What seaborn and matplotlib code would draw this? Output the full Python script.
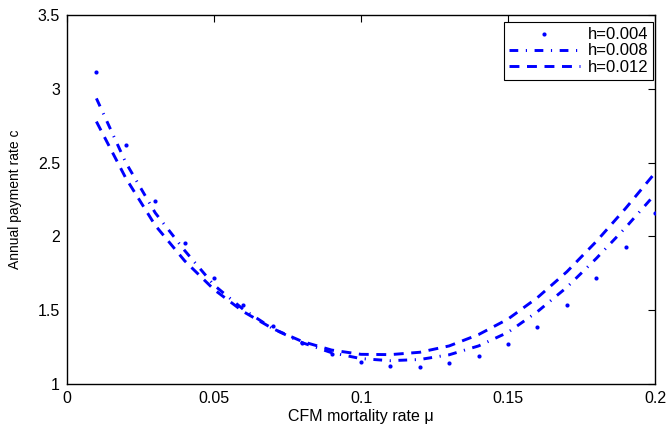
import matplotlib
matplotlib.use("Agg")
import matplotlib.pyplot as plt
import seaborn as sns
import pandas as pd

# ---- data ----
mu = [0.01, 0.02, 0.03, 0.04, 0.05, 0.06, 0.07, 0.08, 0.09, 0.10,
      0.11, 0.12, 0.13, 0.14, 0.15, 0.16, 0.17, 0.18, 0.19, 0.20]
c_h004 = [3.114, 2.619, 2.242, 1.953, 1.720, 1.535, 1.390, 1.280, 1.205, 1.151,
          1.120, 1.115, 1.140, 1.190, 1.269, 1.385, 1.533, 1.716, 1.925, 2.160]
c_h008 = [2.935, 2.500, 2.160, 1.905, 1.670, 1.505, 1.375, 1.280, 1.212, 1.172,
          1.158, 1.166, 1.198, 1.258, 1.350, 1.490, 1.655, 1.850, 2.060, 2.285]
c_h012 = [2.778, 2.395, 2.075, 1.835, 1.640, 1.490, 1.375, 1.288, 1.230, 1.201,
          1.199, 1.215, 1.258, 1.335, 1.440, 1.585, 1.760, 1.965, 2.190, 2.430]
labels = ["h=0.004", "h=0.008", "h=0.012"]
xticks = [0, 0.05, 0.1, 0.15, 0.2]
xticklabels = ["0", "0.05", "0.1", "0.15", "0.2"]
yticks = [1, 1.5, 2, 2.5, 3, 3.5]
yticklabels = ["1", "1.5", "2", "2.5", "3", "3.5"]

sns.set_theme(style="white")
plt.rcParams['font.family'] = ['Liberation Sans', 'DejaVu Sans']
plt.rcParams['axes.edgecolor'] = 'black'

fig = plt.figure(figsize=(6.68, 4.25), dpi=100)
ax = fig.add_axes([67 / 668, 1 - 384 / 425, 588 / 668, 369 / 425])

blue = (0, 0, 1)
sns.scatterplot(x=mu, y=c_h004, ax=ax, color=blue, s=9, linewidth=0,
                label=labels[0], zorder=3)
sns.lineplot(x=mu, y=c_h008, ax=ax, color=blue, linewidth=2.1,
             linestyle=(0, (3.0, 2.6, 0.4, 2.6)), label=labels[1])
sns.lineplot(x=mu, y=c_h012, ax=ax, color=blue, linewidth=2.1,
             linestyle=(0, (3.4, 2.6)), label=labels[2])

ax.set_xlim(0, 0.2)
ax.set_ylim(1, 3.5)
ax.set_xticks(xticks)
ax.set_xticklabels(xticklabels)
ax.set_yticks(yticks)
ax.set_yticklabels(yticklabels)
ax.tick_params(direction='in', length=5, width=0.8, top=True, right=True,
               labelsize=11.5, colors='black', pad=5)
for sp in ax.spines.values():
    sp.set_visible(True)
    sp.set_color('black')
    sp.set_linewidth(1.0)
ax.grid(False)

ax.set_xlabel("CFM mortality rate \u03bc", fontsize=11.5, color='black')
ax.set_ylabel("Annual payment rate c", fontsize=10, color='black')
ax.xaxis.set_label_coords(0.5, (384 - 409) / 369)
ax.yaxis.set_label_coords((22 - 67) / 588, 0.5)

leg = ax.legend(loc='upper right', bbox_to_anchor=(1 - 2 / 588, 1 - 7 / 369),
                borderaxespad=0, fontsize=12, handlelength=4.3,
                handletextpad=0.45, labelspacing=0.1, borderpad=0.28,
                fancybox=False, framealpha=1, scatterpoints=1)
leg.get_frame().set_edgecolor('black')
leg.get_frame().set_linewidth(0.8)
for t in leg.get_texts():
    t.set_color('black')

fig.savefig("out.png", dpi=100)
